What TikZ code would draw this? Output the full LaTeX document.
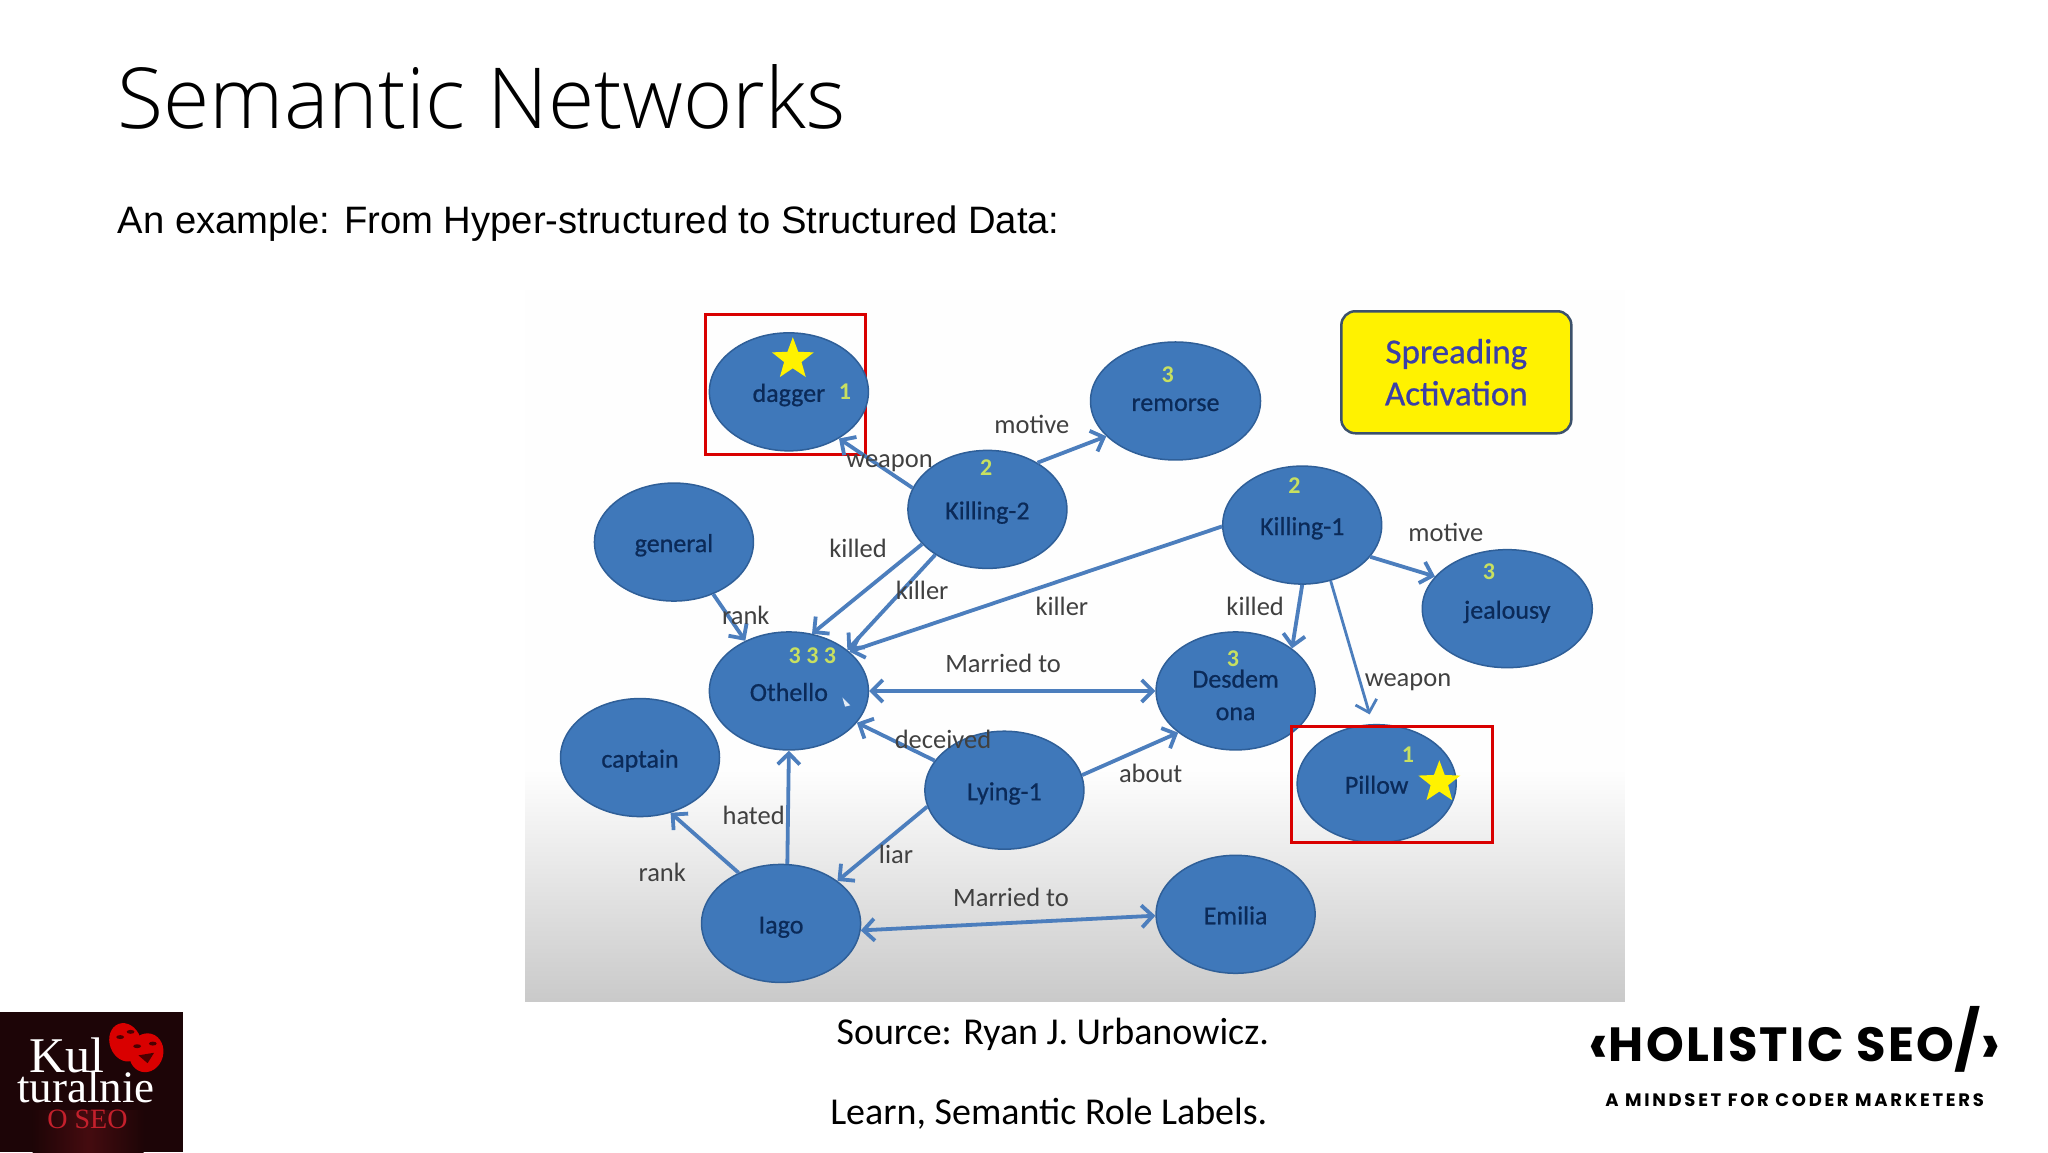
\documentclass[tikz,border=0pt]{standalone}
\usepackage{fontspec}
\setmainfont{Carlito}
\newfontfamily\titlefont{Open Sans Light}
\newfontfamily\subfont{Liberation Sans}
\newfontfamily\conceptfont[RawFeature={embolden=0.7}]{Carlito}
\newfontfamily\logofont[LetterSpace=5]{Poppins}
\newfontfamily\tagfont[LetterSpace=15]{Poppins}
\newfontfamily\masthead{Liberation Serif}
\usetikzlibrary{arrows.meta,shapes.geometric}
\definecolor{nodeblue}{HTML}{3F78BA}
\definecolor{nodeedge}{HTML}{2F5F98}
\definecolor{nodetext}{HTML}{0B2A58}
\definecolor{linkblue}{HTML}{4C7EBD}
\definecolor{labelgray}{HTML}{404040}
\definecolor{countgreen}{HTML}{C8E060}
\definecolor{starfill}{HTML}{FFF200}
\definecolor{spreadblue}{HTML}{3A3FA8}
\definecolor{mastred}{HTML}{C4202C}
\tikzset{
  concept/.style={ellipse, draw=nodeedge, line width=1.5pt, fill=nodeblue, inner sep=0pt, text=nodetext,
    minimum width=159pt, minimum height=118pt, align=center, font=\conceptfont\fontsize{26}{32.5}\selectfont},
  oneline/.style={concept, text height=24pt, text depth=4pt},
  wideconcept/.style={oneline, minimum width=170pt},
  link/.style={draw=linkblue, line width=3.8pt, -{Straight Barb[length=11pt,width=22pt]}},
  bothlink/.style={link, {Straight Barb[length=11pt,width=22pt]}-{Straight Barb[length=11pt,width=22pt]}},
  rel/.style={text=labelgray, inner sep=0pt, font=\fontsize{26.5}{30}\selectfont},
  count/.style={text=countgreen, inner sep=0pt, font=\bfseries\fontsize{24}{26}\selectfont},
  mark star/.style={star, star points=5, star point ratio=2.4, fill=starfill, inner sep=0pt, minimum size=44pt},
  hitbox/.style={draw=red!85!black, line width=3pt},
  slidetext/.style={inner sep=0pt, text=black}
}
\begin{document}
\begin{tikzpicture}[x=1.30612pt, y=-1.30612pt]
    \useasboundingbox (0, 0) rectangle (1568, 882);
    \fill [white] (0, 0) rectangle (1568, 882);

    \node [slidetext, anchor=base west, font=\titlefont\fontsize{84.2}{90}\selectfont] (title) at (90, 98) {Semantic Networks};
    \node [slidetext, anchor=base west, font=\subfont\fontsize{38.2}{44}\selectfont] (subtitle) at (90, 179) {An example: From Hyper-structured to Structured Data:};

    \fill [black!0.5] (402, 222) rectangle (1244, 590);
    \shade [top color=black!0.5, bottom color=black!21] (402, 590) rectangle (1244, 767);

    \draw [hitbox] (540, 241) rectangle (663, 348);

    \node [oneline] (dagger) at (604, 300) {dagger};
    \node [wideconcept] (remorse) at (900, 307) {remorse};
    \node [oneline] (killing2) at (756, 390) {Killing-2};
    \node [oneline] (general) at (516, 415) {general};
    \node [oneline] (killing1) at (997, 402) {Killing-1};
    \node [wideconcept] (jealousy) at (1154, 466) {jealousy};
    \node [oneline] (othello) at (604, 529) {Othello};
    \node [concept] (desdemona) at (946, 529) {\rule{0pt}{26pt}Desdem\\ona};
    \node [oneline] (captain) at (490, 580) {captain};
    \node [oneline] (lying1) at (769, 605) {Lying-1};
    \node [oneline] (pillow) at (1054, 600) {Pillow};
    \node [oneline] (iago) at (598, 707) {Iago};
    \node [oneline] (emilia) at (946, 700) {Emilia};

    \draw [hitbox] (989, 556) rectangle (1143, 645);

    \draw [link] (killing2.164) -- (dagger.-43);
    \draw [link] (killing2.43) -- (remorse.207);
    \draw [link] (killing2.208) -- (othello.68);
    \draw [link] (killing2.221) -- (othello.35);
    \draw [link] (killing1.181) -- (othello.33);
    \draw [link] (general.-53) -- (othello.131);
    \draw [link] (iago.84) -- (othello.-90);
    \draw [link] (iago.130) -- (captain.-61);
    \draw [link] (lying1.157) -- (othello.-25);
    \draw [link] (lying1.192) -- (iago.37);
    \draw [link] (lying1.11) -- (desdemona.216);
    \draw [link] (killing1.270) -- (desdemona.37);
    \draw [link] (killing1.-25) -- (jealousy.156);
    \draw [link, line width=2.8pt, shorten >=10pt] (killing1.-63) -- (pillow.94);
    \draw [bothlink] (othello.0) -- (desdemona.180);
    \draw [bothlink] (iago.-5) -- (emilia.181);

    \node [rel] (weapon2) at (681, 355) {weapon};
    \node [rel] (motive2) at (790, 325) {motive};
    \node [rel] (killed2) at (657, 420) {killed};
    \node [rel] (killer2) at (706, 452) {killer};
    \node [rel] (rank1) at (571, 471) {rank};
    \node [rel] (killer1) at (813, 464) {killer};
    \node [rel] (motive1) at (1107, 408) {motive};
    \node [rel] (killed1) at (961, 464) {killed};
    \node [rel] (weapon1) at (1078, 522) {weapon};
    \node [rel] (married1) at (768, 508) {Married to};
    \node [rel] (deceived) at (722, 566) {deceived};
    \node [rel] (about) at (881, 592) {about};
    \node [rel] (hated) at (577, 624) {hated};
    \node [rel] (liar) at (686, 654) {liar};
    \node [rel] (rank2) at (507, 668) {rank};
    \node [rel] (married2) at (774, 687) {Married to};

    \node [count] (countd) at (647, 300) {1};
    \node [count] (countr) at (894, 287) {3};
    \node [count] (countk2) at (755, 358) {2};
    \node [count] (countk1) at (991, 372) {2};
    \node [count] (countj) at (1140, 438) {3};
    \node [count] (counto) at (622, 502) {3 3 3};
    \node [count] (countde) at (944, 504) {3};
    \node [count] (countp) at (1078, 578) {1};

    \node [mark star] (stardagger) at (607, 275) {};
    \node [mark star] (starpillow) at (1102, 599) {};

    \fill [white!85!nodeblue] (645, 534) -- (651, 540) -- (647, 541) -- cycle;

    \node [draw=black!35!nodeedge!70!gray, line width=2.5pt, rounded corners=14pt, fill=starfill, text=spreadblue, align=center,
      minimum width=230pt, minimum height=122pt, inner sep=0pt, font=\conceptfont\fontsize{35}{42}\selectfont] (spreading) at (1115, 285) {Spreading\\Activation};

    \node [slidetext, font=\fontsize{38}{42}\selectfont] (source) at (806, 792) {Source: Ryan J. Urbanowicz.};
    \node [slidetext, font=\fontsize{38}{42}\selectfont] (learn) at (803, 853) {Learn, Semantic Role Labels.};

    \fill [black!85!mastred] (0, 775) rectangle (140, 882);
    \shade [left color=black!85!mastred, right color=black!85!mastred, middle color=black!65!mastred] (25, 850) rectangle (110, 882);
    \node [text=white, inner sep=0pt, anchor=base, font=\masthead\fontsize{50}{50}\selectfont] (kul) at (51, 821) {Kul};
    \node [text=white, inner sep=0pt, anchor=base, font=\masthead\fontsize{45}{45}\selectfont] (turalnie) at (66, 844) {turalnie};
    \node [text=mastred, inner sep=0pt, anchor=base, font=\masthead\fontsize{28}{28}\selectfont] (oseo) at (67, 864) {O SEO};
    \fill [red!85!black, rotate around={20:(96, 798)}] (96, 798) ellipse (12 and 15);
    \fill [red!85!black, rotate around={-15:(112, 806)}] (112, 806) ellipse (13 and 15);
    \fill [black!70!red] (106, 808) -- (118, 806) -- (113, 814) -- cycle;
    \fill [black!70!red] (105, 801) ellipse (3 and 1.5) (117, 799) ellipse (3 and 1.5);
    \fill [black!70!red] (92, 794) ellipse (3 and 1.5) (100, 790) ellipse (3 and 1.5);

    \node [inner sep=0pt, anchor=base, font=\logofont\bfseries\fontsize{48}{50}\selectfont] (holistic) at (1374, 813) {{\fontsize{60}{60}\selectfont\raisebox{-3pt}{‹}}HOLISTIC SEO{\fontsize{58}{58}\selectfont/}{\fontsize{60}{60}\selectfont\raisebox{-3pt}{›}}};
    \node [inner sep=0pt, font=\tagfont\bfseries\fontsize{18}{20}\selectfont] (mindset) at (1374, 842) {A MINDSET FOR CODER MARKETERS};
  \end{tikzpicture}
\end{document}
